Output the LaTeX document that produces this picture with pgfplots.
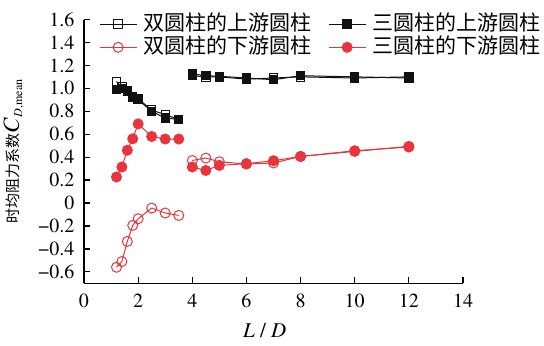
\documentclass[border=0pt]{standalone}
\usepackage{fontspec}
\setmainfont{texgyretermes}[Extension=.otf, UprightFont=*-regular, ItalicFont=*-italic, BoldFont=*-bold, BoldItalicFont=*-bolditalic]
\newfontfamily\cjk{Noto Sans CJK SC}
\newfontfamily\tnr{texgyretermes}[Extension=.otf, UprightFont=*-regular, ItalicFont=*-italic, BoldFont=*-bold, BoldItalicFont=*-bolditalic]
\usepackage{pgfplots}
\pgfplotsset{compat=1.18}
\definecolor{myred}{HTML}{E8343C}
\definecolor{myblack}{HTML}{111111}
\newcommand{\tl}[1]{\mbox{\tnr\fontsize{10}{11}\selectfont #1}}
\begin{document}
\begin{tikzpicture}
\path[use as bounding box] (-42pt,-30.85pt) rectangle (230pt,141.65pt);
\begin{axis}[
  at={(0,0)}, anchor=south west,
  scale only axis, width=189.5pt, height=131.9pt,
  xmin=0, xmax=14, ymin=-0.7, ymax=1.6,
  axis x line*=bottom, axis y line*=left,
  axis line style={line width=0.6pt, -},
  tick align=inside, major tick length=3pt,
  tick style={line width=0.6pt, black},
  xtick={0,2,4,6,8,10,12,14},
  xticklabels={\tl{0},\tl{2},\tl{4},\tl{6},\tl{8},\tl{10},\tl{12},\tl{14}},
  ytick={-0.6,-0.4,-0.2,0,0.2,0.4,0.6,0.8,1.0,1.2,1.4,1.6},
  yticklabels={\tl{−0.6},\tl{−0.4},\tl{−0.2},\tl{0},\tl{0.2},\tl{0.4},\tl{0.6},\tl{0.8},\tl{1.0},\tl{1.2},\tl{1.4},\tl{1.6}},
  tick label style={font=\tnr\fontsize{10}{11}\selectfont},
  yticklabel style={xshift=-1.3pt},
  xticklabel style={yshift=-1.8pt},
  unbounded coords=jump,
  xlabel={\textit{L} / \textit{D}},
  xlabel style={at={(axis description cs:0.477,0)}, anchor=base, yshift=-27pt, font=\tnr\fontsize{10.5}{12}\selectfont},
  ylabel={{\cjk\fontsize{7.5}{9}\selectfont 时均阻力系数}{\tnr\fontsize{11.5}{12}\selectfont\textit{C}}\raisebox{-1.6pt}{\tnr\fontsize{6}{7}\selectfont\textit{D},mean}},
  ylabel style={at={(axis description cs:-0.158,0.5)}, anchor=south, inner sep=0pt},
  legend columns=2,
  legend cell align=left,
  legend image code/.code={\draw[mark repeat=2,mark phase=2] plot coordinates {(0pt,0pt) (9.25pt,0pt) (18.5pt,0pt)};},
  legend style={at={(0.039,1.028)}, anchor=north west, draw=none, fill=none,
    font=\cjk\fontsize{10.5}{11}\selectfont, inner sep=0pt,
    nodes={inner sep=0.8pt, text height=8.2pt, text depth=1.8pt},
    /tikz/every odd column/.append style={column sep=2.2pt},
    /tikz/every even column/.append style={column sep=7.7pt}},
]
% double cylinder upstream (open squares)
\addplot[myblack, line width=0.5pt, mark=square, mark size=2.1pt, mark options={fill=white, draw=myblack, line width=0.5pt}]
coordinates {(1.2,1.06) (1.4,1.01) (1.6,0.98) (1.8,0.93) (2.0,0.91) (2.5,0.81) (3.0,0.77) (3.5,0.73) (3.75,nan)
(4,1.11) (4.5,1.10) (5,1.10) (6,1.08) (7,1.09) (8,1.10) (10,1.09) (12,1.10)};
\addlegendentry{双圆柱的上游圆柱}
% triple cylinder upstream (filled squares)
\addplot[myblack, line width=0.5pt, mark=square*, mark size=2.1pt, mark options={fill=myblack, draw=myblack}]
coordinates {(1.2,0.99) (1.4,1.00) (1.6,0.97) (1.8,0.92) (2.0,0.90) (2.5,0.80) (3.0,0.74) (3.5,0.73) (3.75,nan)
(4,1.125) (4.5,1.11) (5,1.105) (6,1.09) (7,1.075) (8,1.11) (10,1.10) (12,1.09)};
\addlegendentry{三圆柱的上游圆柱}
% double cylinder downstream (open circles)
\addplot[myred, line width=0.5pt, mark=o, mark size=2.5pt, mark options={fill=white, draw=myred, line width=0.5pt}]
coordinates {(1.2,-0.56) (1.4,-0.51) (1.6,-0.335) (1.8,-0.195) (2.0,-0.137) (2.5,-0.044) (3.0,-0.087) (3.5,-0.108) (3.75,nan)
(4,0.371) (4.5,0.392) (5,0.36) (6,0.34) (7,0.349) (8,0.406) (10,0.45) (12,0.494)};
\addlegendentry{双圆柱的下游圆柱}
% triple cylinder downstream (filled circles)
\addplot[myred, line width=0.5pt, mark=*, mark size=2.5pt, mark options={fill=myred, draw=myred}]
coordinates {(1.2,0.227) (1.4,0.314) (1.6,0.46) (1.8,0.56) (2.0,0.69) (2.5,0.58) (3.0,0.558) (3.5,0.558) (3.75,nan)
(4,0.314) (4.5,0.284) (5,0.328) (6,0.343) (7,0.369) (8,0.406) (10,0.456) (12,0.488)};
\addlegendentry{三圆柱的下游圆柱}
\end{axis}
\end{tikzpicture}
\end{document}
